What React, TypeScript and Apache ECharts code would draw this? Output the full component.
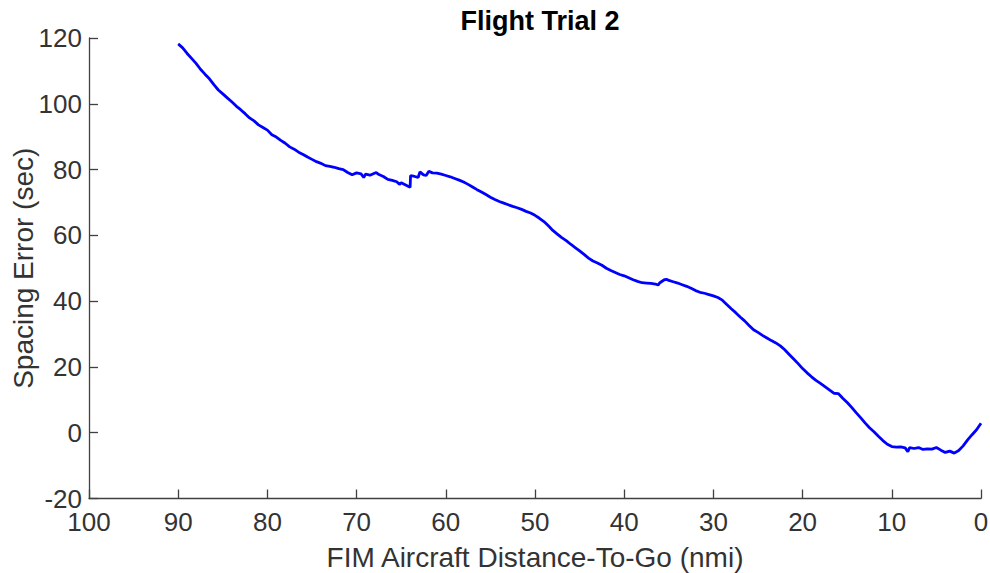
import React, { useEffect, useRef } from "react";
import * as echarts from "echarts";

const titleText = "Flight Trial 2";
const xAxisName = "FIM Aircraft Distance-To-Go (nmi)";
const yAxisName = "Spacing Error (sec)";

const distance: number[] = [
  90.0, 89.5, 89.0, 88.5, 88.0, 87.5, 87.0, 86.5, 86.0, 85.5, 85.0, 84.5, 84.0, 83.5, 83.0, 82.5, 82.0, 81.5, 81.0, 80.5,
  80.0, 79.5, 79.0, 78.5, 78.0, 77.5, 77.0, 76.5, 76.0, 75.5, 75.0, 74.5, 74.0, 73.5, 73.0, 72.5, 72.0, 71.5, 71.0, 70.5,
  70.0, 69.5, 69.2, 69.0, 68.5, 68.0, 67.8, 67.5, 67.0, 66.5, 66.0, 65.5, 65.2, 65.0, 64.5, 64.0, 63.95, 63.5, 63.1, 62.9,
  62.5, 62.2, 61.9, 61.5, 61.0, 60.5, 60.0, 59.5, 59.0, 58.5, 58.0, 57.5, 57.0, 56.5, 56.0, 55.5, 55.0, 54.5, 54.0, 53.5,
  53.0, 52.5, 52.0, 51.5, 51.0, 50.5, 50.0, 49.5, 49.0, 48.5, 48.0, 47.5, 47.0, 46.5, 46.0, 45.5, 45.0, 44.5, 44.0, 43.5,
  43.0, 42.5, 42.0, 41.5, 41.0, 40.5, 40.0, 39.5, 39.0, 38.5, 38.0, 37.5, 37.0, 36.5, 36.2, 36.0, 35.5, 35.2, 35.0, 34.5,
  34.0, 33.5, 33.0, 32.5, 32.0, 31.5, 31.0, 30.5, 30.0, 29.5, 29.0, 28.5, 28.0, 27.5, 27.0, 26.5, 26.0, 25.5, 25.0, 24.5,
  24.0, 23.5, 23.0, 22.5, 22.0, 21.5, 21.0, 20.5, 20.0, 19.5, 19.0, 18.5, 18.0, 17.5, 17.0, 16.5, 16.0, 15.5, 15.0, 14.5,
  14.0, 13.5, 13.0, 12.5, 12.0, 11.5, 11.0, 10.5, 10.0, 9.5, 9.0, 8.5, 8.2, 8.0, 7.5, 7.0, 6.5, 6.0, 5.5, 5.0,
  4.5, 4.0, 3.5, 3.0, 2.5, 2.0, 1.5, 1.0, 0.5, 0.0,
];

const spacingError: number[] = [
  118.2, 117.0, 115.3, 113.8, 112.3, 110.5, 109.0, 107.6, 105.8, 104.2, 103.0, 101.8, 100.6, 99.3, 98.2, 97.0, 95.7, 94.8, 93.6, 92.8,
  92.0, 90.6, 89.9, 88.9, 88.0, 86.9, 86.2, 85.3, 84.6, 83.8, 83.1, 82.4, 81.9, 81.2, 81.0, 80.7, 80.3, 80.0, 79.1, 78.4,
  79.0, 78.7, 77.6, 78.6, 78.3, 78.9, 79.1, 78.5, 77.9, 77.0, 76.7, 76.3, 75.5, 76.0, 75.3, 74.6, 78.2, 77.9, 77.6, 79.3,
  78.4, 78.2, 79.5, 79.0, 78.9, 78.6, 78.2, 77.8, 77.3, 76.8, 76.2, 75.5, 74.7, 73.9, 73.2, 72.4, 71.6, 70.9, 70.3, 69.8,
  69.3, 68.8, 68.4, 67.9, 67.3, 66.8, 66.1, 65.2, 64.2, 62.9, 61.5, 60.4, 59.3, 58.4, 57.3, 56.3, 55.3, 54.2, 53.1, 52.2,
  51.6, 50.9, 50.0, 49.3, 48.7, 48.1, 47.7, 47.1, 46.5, 46.0, 45.6, 45.5, 45.4, 45.2, 44.9, 45.6, 46.5, 46.6, 46.3, 45.9,
  45.5, 45.0, 44.5, 43.9, 43.2, 42.7, 42.4, 42.0, 41.6, 41.1, 40.3, 39.0, 37.7, 36.5, 35.2, 34.0, 32.6, 31.3, 30.5, 29.6,
  28.8, 28.0, 27.3, 26.4, 25.2, 23.8, 22.4, 21.0, 19.5, 18.2, 17.0, 15.9, 15.0, 14.0, 13.0, 12.0, 11.9, 10.5, 9.2, 7.7,
  6.1, 4.6, 3.0, 1.5, 0.3, -1.1, -2.4, -3.5, -4.2, -4.4, -4.3, -4.6, -5.8, -4.5, -4.8, -4.5, -5.1, -4.9, -5.0, -4.5,
  -5.3, -6.0, -5.6, -6.2, -5.4, -4.0, -2.2, -0.6, 0.9, 2.9,
];

const xTicks = { min: 0, max: 100, interval: 10 };
const yTicks = { min: -20, max: 120, interval: 20 };

export default function App() {
  const ref = useRef<HTMLDivElement>(null);
  useEffect(() => {
    if (!ref.current) return;
    const chart = echarts.init(ref.current, undefined, { renderer: "svg" });
    const axisColor = "#404040";
    const font = "Liberation Sans, Arial, Helvetica, sans-serif";
    chart.setOption({
      animation: false,
      backgroundColor: "#ffffff",
      title: {
        text: titleText,
        left: 535,
        top: 2,
        textAlign: "center",
        textStyle: { fontFamily: font, fontWeight: "bold", fontSize: 27, color: "#000000" },
      },
      grid: {
        left: 89,
        right: 9,
        top: 38,
        bottom: 74.5,
        containLabel: false,
        outerBoundsMode: "none",
      },
      xAxis: {
        type: "value",
        inverse: true,
        min: xTicks.min,
        max: xTicks.max,
        interval: xTicks.interval,
        name: xAxisName,
        nameLocation: "middle",
        nameGap: 45,
        nameMoveOverlap: false,
        nameTextStyle: { fontFamily: font, fontSize: 28, color: "#333333" },
        axisLine: { show: true, onZero: false, lineStyle: { color: axisColor, width: 1.3 } },
        axisTick: { show: true, inside: true, length: 9, lineStyle: { color: axisColor, width: 1.3 } },
        axisLabel: { fontFamily: font, fontSize: 26, color: "#333333", margin: 10 },
        splitLine: { show: false },
      },
      yAxis: {
        type: "value",
        min: yTicks.min,
        max: yTicks.max,
        interval: yTicks.interval,
        name: yAxisName,
        nameLocation: "middle",
        nameGap: 52,
        nameMoveOverlap: false,
        nameTextStyle: { fontFamily: font, fontSize: 28, color: "#333333" },
        axisLine: { show: true, onZero: false, lineStyle: { color: axisColor, width: 1.3 } },
        axisTick: { show: true, inside: true, length: 9, lineStyle: { color: axisColor, width: 1.3 } },
        axisLabel: { fontFamily: font, fontSize: 26, color: "#333333", margin: 7 },
        splitLine: { show: false },
      },
      series: [
        {
          type: "line",
          data: distance.map((d, i) => [d, spacingError[i]]),
          showSymbol: false,
          symbol: "none",
          lineStyle: { color: "#0000ff", width: 2.8 },
        },
      ],
    });
    return () => chart.dispose();
  }, []);
  return (
    <div
      ref={ref}
      style={{ position: "absolute", left: 0, top: 0, width: 990, height: 573 }}
    />
  );
}
